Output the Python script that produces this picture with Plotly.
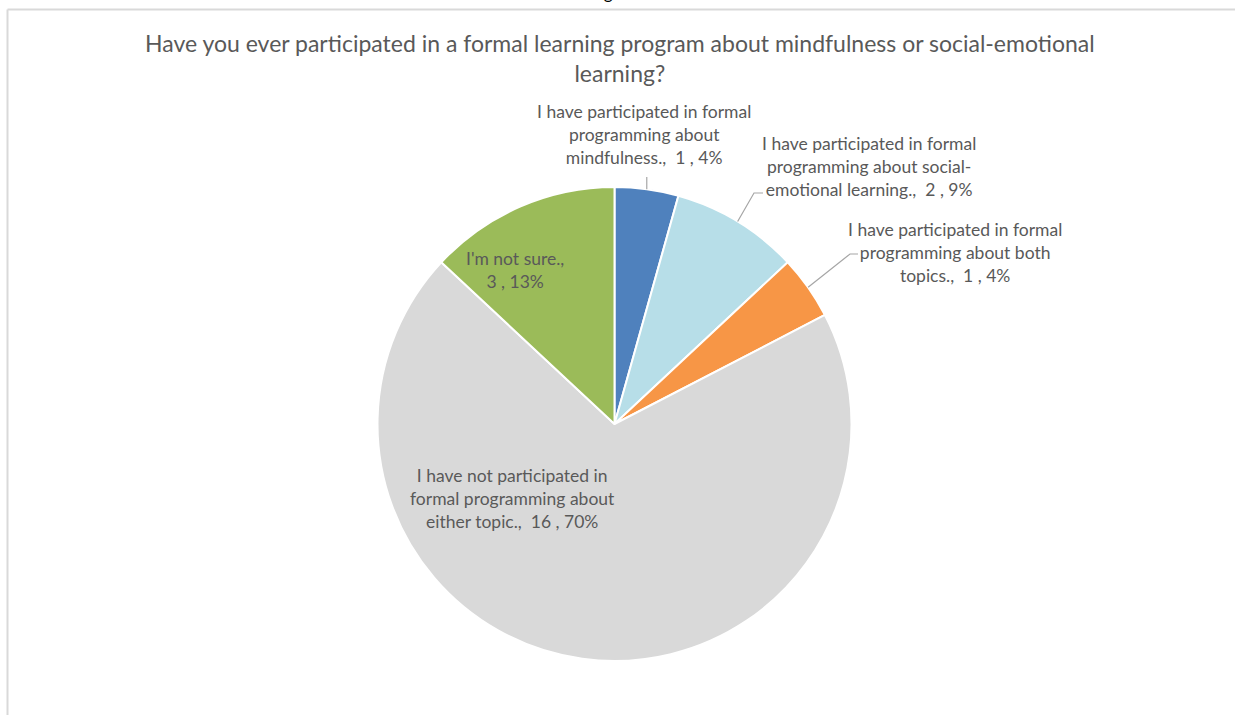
import math
import plotly.graph_objects as go

W, H = 1235, 715

# Survey responses
categories = [
    "I have participated in formal programming about mindfulness.",
    "I have participated in formal programming about social-emotional learning.",
    "I have participated in formal programming about both topics.",
    "I have not participated in formal programming about either topic.",
    "I'm not sure.",
]
counts = [1, 2, 1, 16, 3]
colors = ["#4F81BD", "#B7DEE8", "#F79646", "#D9D9D9", "#9BBB59"]

# Wrapped label lines for each category
label_lines = [
    ["I have participated in formal", "programming about", "mindfulness.,"],
    ["I have participated in formal", "programming about social-", "emotional learning.,"],
    ["I have participated in formal", "programming about both", "topics.,"],
    ["I have not participated in", "formal programming about", "either topic.,"],
    ["I'm not sure.,"],
]
# label block centres (px) and leader-line elbows (px, None = no line)
label_pos = [(644, 135), (869, 166), (955, 252), (512, 498), (515, 270)]
elbows = [[(None, 177)], [(754, 193), (763, 193)], [(850, 254), (858, 254)], None, None]

title = ("Have you ever participated in a formal learning program about mindfulness or social-emotional"
         "<br>learning?")

FONT = "Lato"
GREY = "#595959"

cx, cy, r = 614.5, 424.0, 237.0

fig = go.Figure()
fig.add_trace(go.Pie(
    labels=categories,
    values=counts,
    sort=False,
    direction="clockwise",
    rotation=0,
    marker=dict(colors=colors, line=dict(color="white", width=2)),
    textinfo="none",
    hoverinfo="label+value+percent",
    showlegend=False,
    domain=dict(x=[(cx - r) / W, (cx + r) / W], y=[(H - cy - r) / H, (H - cy + r) / H]),
))

total = sum(counts)
cum = 0
annotations = []
shapes = []
for i, v in enumerate(counts):
    pct = round(v / total * 100)
    lines = list(label_lines[i])
    suffix = f"\u00a0 {v} , {pct}%"
    if len(lines) == 1:
        lines = [lines[0], f"{v} , {pct}%"]
    else:
        lines[-1] = lines[-1] + suffix
    lx, ly = label_pos[i]
    annotations.append(dict(
        x=lx / W, y=1 - ly / H, xref="paper", yref="paper",
        text="<br>".join(lines), showarrow=False, align="center",
        xanchor="center", yanchor="middle",
        font=dict(family=FONT, size=17.5, color=GREY),
    ))
    mid = (cum + v / 2) / total * 2 * math.pi
    cum += v
    if elbows[i]:
        ex, ey = cx + r * math.sin(mid), cy - r * math.cos(mid)
        pts = [(ex, ey)]
        for (px, py) in elbows[i]:
            pts.append((ex if px is None else px, py))
        path = "M " + " L ".join(f"{x / W},{1 - y / H}" for x, y in pts)
        shapes.append(dict(type="path", path=path, xref="paper", yref="paper",
                           line=dict(color="#A6A6A6", width=1.2)))

# Title
annotations.append(dict(
    x=620 / W, y=1 - 58.5 / H, xref="paper", yref="paper", text=title,
    showarrow=False, align="center", xanchor="center", yanchor="middle",
    font=dict(family=FONT, size=23, color=GREY),
))
# Caption above the chart frame
annotations.append(dict(
    x=622 / W, y=1 - 5 / H, xref="paper", yref="paper", text="Figure 3.",
    showarrow=False, xanchor="center", yanchor="bottom",
    font=dict(family=FONT, size=17, color="#000000"),
))

# Chart frame (top and left edges visible)
shapes.append(dict(type="line", xref="paper", yref="paper",
                   x0=7.5 / W, x1=1.0, y0=1 - 9.5 / H, y1=1 - 9.5 / H,
                   line=dict(color="#D9D9D9", width=2)))
shapes.append(dict(type="line", xref="paper", yref="paper",
                   x0=7.5 / W, x1=7.5 / W, y0=1 - 9.5 / H, y1=0,
                   line=dict(color="#D9D9D9", width=2)))

fig.update_layout(
    width=W, height=H,
    margin=dict(l=0, r=0, t=0, b=0),
    paper_bgcolor="white", plot_bgcolor="white",
    annotations=annotations, shapes=shapes,
)
fig.write_html("out.html")
